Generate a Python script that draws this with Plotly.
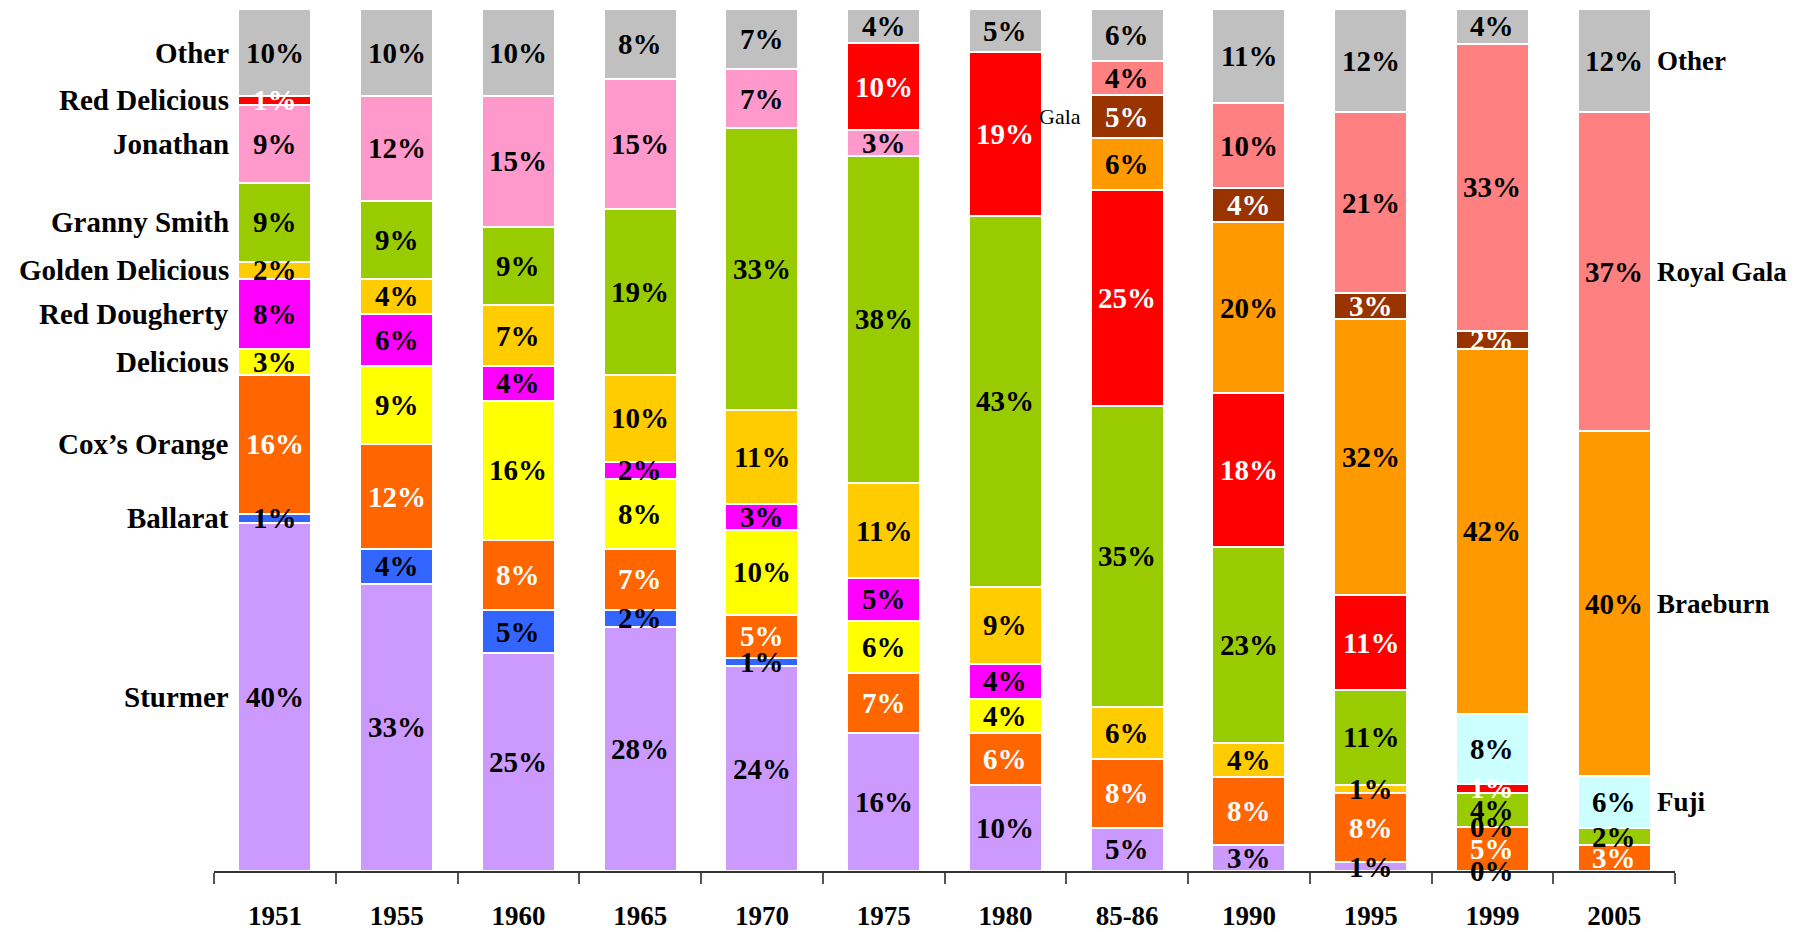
import plotly.graph_objects as go

categories = ["1951", "1955", "1960", "1965", "1970", "1975", "1980", "85-86", "1990", "1995", "1999", "2005"]

# series listed bottom-to-top (None = variety absent that year)
sturmer          = [40, 33, 25, 28, 24, 16, 10, 5, 3, 1, 0, None]
ballarat         = [1, 4, 5, 2, 1, None, None, None, None, None, None, None]
coxs_orange      = [16, 12, 8, 7, 5, 7, 6, 8, 8, 8, 5, 3]
delicious        = [3, 9, 16, 8, 10, 6, 4, None, None, None, None, None]
red_dougherty    = [8, 6, 4, 2, 3, 5, 4, None, None, None, None, None]
golden_delicious = [2, 4, 7, 10, 11, 11, 9, 6, 4, 1, 0, None]
granny_smith     = [9, 9, 9, 19, 33, 38, 43, 35, 23, 11, 4, 2]
jonathan         = [9, 12, 15, 15, 7, 3, None, None, None, None, None, None]
red_delicious    = [1, None, None, None, None, 10, 19, 25, 18, 11, 1, None]
fuji             = [None, None, None, None, None, None, None, None, None, None, 8, 6]
braeburn         = [None, None, None, None, None, None, None, 6, 20, 32, 42, 40]
gala             = [None, None, None, None, None, None, None, 5, 4, 3, 2, None]
royal_gala       = [None, None, None, None, None, None, None, 4, 10, 21, 33, 37]
other            = [10, 10, 10, 8, 7, 4, 5, 6, 11, 12, 4, 12]

series_names = ["Sturmer", "Ballarat", "Cox\u2019s Orange", "Delicious", "Red Dougherty",
                "Golden Delicious", "Granny Smith", "Jonathan", "Red Delicious", "Fuji",
                "Braeburn", "Gala", "Royal Gala", "Other"]
series_values = [sturmer, ballarat, coxs_orange, delicious, red_dougherty, golden_delicious,
                 granny_smith, jonathan, red_delicious, fuji, braeburn, gala, royal_gala, other]
series_colors = ["#CC99FF", "#3366FF", "#FF6600", "#FFFF00", "#FF00FF", "#FFCC00",
                 "#99CC00", "#FF99CC", "#FF0000", "#CCFFFF", "#FF9900", "#993300",
                 "#FF8080", "#C0C0C0"]
white_text = {"Cox\u2019s Orange", "Red Delicious", "Gala"}

left_labels = ["Sturmer", "Ballarat", "Cox\u2019s Orange", "Delicious", "Red Dougherty",
               "Golden Delicious", "Granny Smith", "Jonathan", "Red Delicious", "Other"]
right_labels = ["Fuji", "Braeburn", "Royal Gala", "Other"]

FONT = "Liberation Serif, Times New Roman, serif"

fig = go.Figure()
for name, vals, col in zip(series_names, series_values, series_colors):
    fig.add_trace(go.Bar(
        name=name, x=categories, y=vals,
        marker=dict(color=col, line=dict(color="white", width=2)),
        hoverinfo="x+y+name",
    ))

# segment centres (normalised to 100%)
totals = [sum(s[i] for s in series_values if s[i] is not None) for i in range(len(categories))]
mids = {}
annotations = []
for i, cat in enumerate(categories):
    cum = 0.0
    for name, vals in zip(series_names, series_values):
        v = vals[i]
        if v is None:
            continue
        v_n = v / totals[i] * 100
        mid = cum + v_n / 2
        mids[(name, i)] = mid
        cum += v_n
        annotations.append(dict(
            x=i, y=mid, xref="x", yref="y", text=f"{v}%", showarrow=False,
            font=dict(family=FONT, size=29, weight="bold",
                      color="white" if name in white_text else "black"),
            xanchor="center", yanchor="middle"))

for name in left_labels:
    annotations.append(dict(
        x=0, y=mids[(name, 0)], xref="x", yref="y", text=name, showarrow=False,
        xanchor="right", yanchor="middle", xshift=-44,
        font=dict(family=FONT, size=29, weight="bold", color="black")))

last = len(categories) - 1
for name in right_labels:
    annotations.append(dict(
        x=last, y=mids[(name, last)], xref="x", yref="y", text=name, showarrow=False,
        xanchor="left", yanchor="middle", xshift=41,
        font=dict(family=FONT, size=27, weight="bold", color="black")))

gi = categories.index("85-86")
annotations.append(dict(
    x=gi, y=mids[("Gala", gi)], xref="x", yref="y", text="Gala", showarrow=False,
    xanchor="right", yanchor="middle", xshift=-44,
    font=dict(family=FONT, size=22, color="black")))

# page body has an 8px default margin, so the figure is sized to fit inside the window
fig.update_layout(
    width=1796, height=924,
    margin=dict(l=206, r=129, t=1, b=58),
    barmode="stack", barnorm="percent", bargap=0.4,
    plot_bgcolor="white", paper_bgcolor="white",
    showlegend=False,
    annotations=annotations,
    xaxis=dict(type="category", range=[-0.5, len(categories) - 0.5], autorange=False,
               tickson="boundaries", ticks="outside", ticklen=11,
               tickcolor="#555555", tickwidth=1.5, showline=True, linecolor="#333333",
               linewidth=1.5, showgrid=False, ticklabelstandoff=20, tickangle=0,
               tickfont=dict(family=FONT, size=27, weight="bold", color="black")),
    yaxis=dict(range=[0, 100], autorange=False, visible=False, showgrid=False),
)

fig.write_html("out.html")
